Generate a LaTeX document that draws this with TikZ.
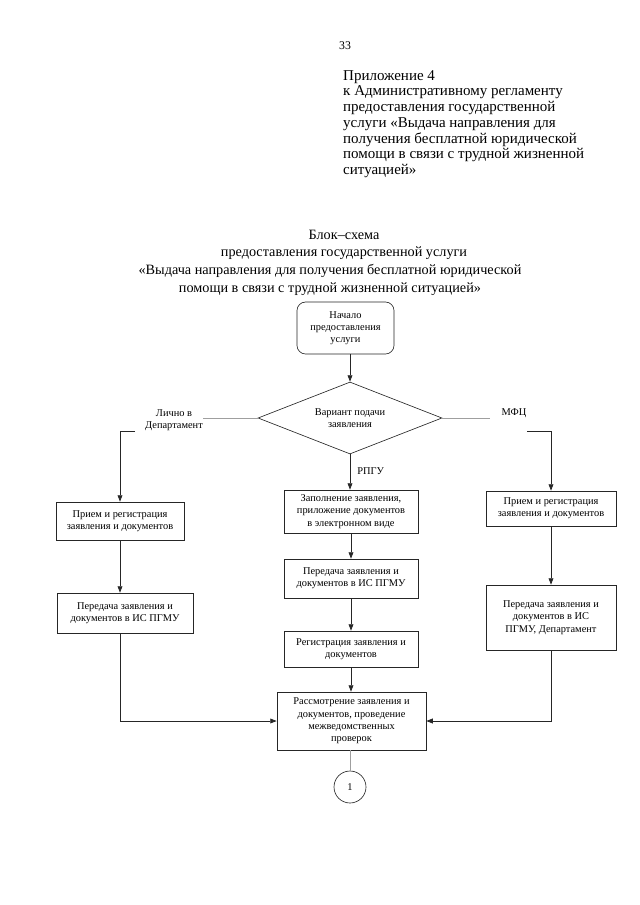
\documentclass[tikz,border=0pt]{standalone}
\usepackage{fontspec}
\setmainfont{Liberation Serif}
\usetikzlibrary{shapes.geometric, arrows.meta, positioning, calc}

\newcommand{\unitpx}{0.328125mm}
\newcommand{\boxfont}{\fontsize{9.7}{11.4}\selectfont}

\begin{document}
\begin{tikzpicture}[
    x=\unitpx, y=-\unitpx,
    sized/.style 2 args={minimum width=#1*\unitpx, minimum height=#2*\unitpx},
    box/.style={rectangle, draw=black!85, line width=0.6pt, align=center, font=\boxfont, inner sep=1pt},
    startbox/.style={box, rounded corners=8pt},
    choice/.style={diamond, draw=black!85, line width=0.6pt, align=center, font=\boxfont, inner sep=0pt, aspect=2.5},
    lbl/.style={font=\boxfont, align=center, inner sep=1pt},
    flow/.style={draw=black!85, line width=0.7pt, -{Triangle[length=6pt,width=4.5pt]}},
    dim/.style={draw=gray!75, line width=0.8pt},
]
    \useasboundingbox (0,0) rectangle (640,905);

    % header
    \node[font=\fontsize{11}{12}\selectfont] (pagenum) at (345,46) {33};
    \node[anchor=north west, inner sep=0pt, align=left, font=\fontsize{14}{14.7}\selectfont] (appendix) at (343,70)
        {Приложение 4\\к Административному регламенту\\предоставления государственной\\услуги «Выдача направления для\\получения бесплатной юридической\\помощи в связи с трудной жизненной\\ситуацией»};
    \node[align=center, font=\fontsize{13.3}{16}\selectfont] (title) at (344,245)
        {Блок–схема\\предоставления государственной услуги};
    \node[align=center, font=\fontsize{13.3}{16}\selectfont] (titlesub) at (330,280)
        {«Выдача направления для получения бесплатной юридической\\помощи в связи с трудной жизненной ситуацией»};

    % middle column
    \node[startbox, sized={97}{52}] (start) at (345.5,328) {Начало\\предоставления\\услуги};
    \node[choice, sized={184}{72}] (variant) at (350,418) {Вариант подачи\\заявления};
    \node[box, sized={134}{43}] (fillin) at (351,511.5) {Заполнение заявления,\\приложение документов\\в электронном виде};
    \node[box, sized={134}{39}] (sendmid) at (351,578.5) {Передача заявления и\\документов в ИС ПГМУ};
    \node[box, sized={134}{36}] (regmid) at (351,649) {Регистрация заявления и\\документов};
    \node[box, sized={149}{58}] (review) at (351.5,721) {Рассмотрение заявления и\\документов, проведение\\межведомственных\\проверок};
    \node[circle, draw=black!85, line width=0.6pt, minimum size=32*\unitpx, inner sep=0pt, font=\boxfont] (next) at (350,787) {1};

    % left column
    \node[box, sized={128}{38}] (recleft) at (120,521) {Прием и регистрация\\заявления и документов};
    \node[box, sized={136}{40}] (sendleft) at (125,613) {Передача заявления и\\документов в ИС ПГМУ};

    % right column
    \node[box, sized={130}{35}] (recright) at (551,508.5) {Прием и регистрация\\заявления и документов};
    \node[box, sized={130}{65}] (sendright) at (551,617.5) {Передача заявления и\\документов в ИС\\ПГМУ, Департамент};

    % branch labels
    \node[lbl] (personal) at (174,420) {Лично в\\Департамент};
    \node[lbl] (mfc) at (514,413) {МФЦ};
    \node[lbl, anchor=west] (rpgu) at (356,471) {РПГУ};

    \coordinate (personalR) at (203,418);
    \coordinate (personalL) at (135,431);
    \coordinate (mfcL) at (490,418);
    \coordinate (mfcR) at (527,431);

    \draw[flow] (start.south -| variant.north) -- (variant.north);
    \draw[dim] (variant.west) -- (personalR);
    \draw[flow] (personalL) -| (recleft.north);
    \draw[flow] (recleft.south) -- (recleft.south |- sendleft.north);
    \draw[flow] (recleft.south |- sendleft.south) |- (review.west);
    \draw[flow] (variant.south) -- (variant.south |- fillin.north);
    \draw[flow] (fillin.south) -- (sendmid.north);
    \draw[flow] (sendmid.south) -- (regmid.north);
    \draw[flow] (regmid.south) -- (regmid.south |- review.north);
    \draw[dim] (variant.east) -- (mfcL);
    \draw[flow] (mfcR) -| (recright.north);
    \draw[flow] (recright.south) -- (sendright.north);
    \draw[flow] (sendright.south) |- (review.east);
    \draw[dim] (review.south -| next.north) -- (next.north);
\end{tikzpicture}
\end{document}
